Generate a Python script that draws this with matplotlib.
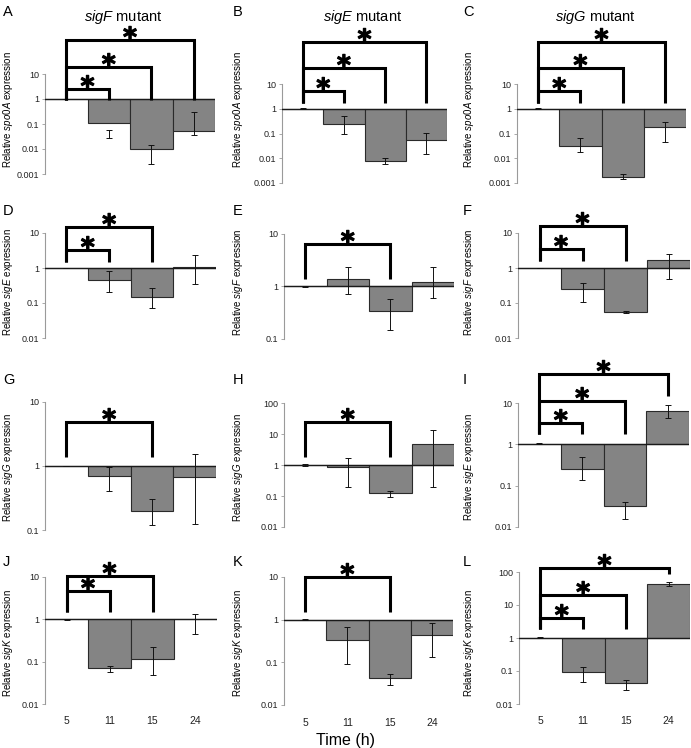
import matplotlib
matplotlib.use("Agg")
import matplotlib.pyplot as plt
import matplotlib.transforms as mtransforms
import matplotlib.patheffects as pe
import numpy as np

plt.rcParams["font.family"] = ["Liberation Sans", "DejaVu Sans"]
plt.rcParams["mathtext.fontset"] = "custom"
plt.rcParams["mathtext.it"] = "Liberation Sans:italic"
plt.rcParams["mathtext.rm"] = "Liberation Sans"

W, H = 691, 748

# ---- data: relative expression vs 5 h ----
times = ["5", "11", "15", "24"]
mutants = ["sigF", "sigE", "sigG"]

val_A = [1, 0.107, 0.010, 0.054]
lo_A = [0.97, 0.027, 0.0025, 0.036]
hi_A = [1.03, 0.058, 0.0145, 0.30]

val_B = [1, 0.25, 0.008, 0.057]
lo_B = [0.97, 0.094, 0.0059, 0.015]
hi_B = [1.03, 0.52, 0.0098, 0.103]

val_C = [1, 0.032, 0.0018, 0.18]
lo_C = [0.97, 0.018, 0.0015, 0.046]
hi_C = [1.03, 0.065, 0.0024, 0.29]

val_D = [1, 0.46, 0.145, 1.1]
lo_D = [0.97, 0.20, 0.074, 0.36]
hi_D = [1.03, 0.80, 0.27, 2.3]

val_E = [1, 1.4, 0.335, 1.23]
lo_E = [0.98, 0.73, 0.146, 0.60]
hi_E = [1.02, 2.4, 0.57, 2.4]

val_F = [1, 0.257, 0.055, 1.66]
lo_F = [0.98, 0.105, 0.053, 0.50]
hi_F = [1.02, 0.38, 0.058, 2.5]

val_G = [1, 0.71, 0.196, 0.67]
lo_G = [0.99, 0.40, 0.12, 0.125]
hi_G = [1.01, 0.98, 0.30, 1.52]

val_H = [1, 0.86, 0.128, 4.8]
lo_H = [0.96, 0.195, 0.093, 0.20]
hi_H = [1.04, 1.64, 0.145, 13.8]

val_I = [1.04, 0.26, 0.032, 6.4]
lo_I = [1.0, 0.137, 0.0156, 4.25]
hi_I = [1.08, 0.50, 0.041, 8.9]

val_J = [1, 0.07, 0.116, 1.0]
lo_J = [0.98, 0.056, 0.049, 0.46]
hi_J = [1.02, 0.078, 0.225, 1.31]

val_K = [1, 0.34, 0.042, 0.44]
lo_K = [0.98, 0.09, 0.030, 0.134]
hi_K = [1.02, 0.67, 0.053, 0.85]

val_L = [1.03, 0.093, 0.042, 44.7]
lo_L = [1.0, 0.045, 0.026, 38]
hi_L = [1.06, 0.135, 0.054, 50]

# gene measured in each panel
genes = ["spo0A", "spo0A", "spo0A", "sigE", "sigF", "sigF",
         "sigG", "sigG", "sigE", "sigK", "sigK", "sigK"]
# axis range per panel
ylims = [(1e-3, 10), (1e-3, 10), (1e-3, 10),
         (1e-2, 10), (0.1, 10), (1e-2, 10),
         (0.1, 10), (1e-2, 100), (1e-2, 10),
         (1e-2, 10), (1e-2, 10), (1e-2, 100)]
# time points significantly different from 5 h
sig = [[1, 2, 3], [1, 2, 3], [1, 2, 3],
       [1, 2], [2], [1, 2],
       [2], [2], [1, 2, 3],
       [1, 2], [2], [1, 2, 3]]

panels = list("ABCDEFGHIJKL")
vals = [val_A, val_B, val_C, val_D, val_E, val_F, val_G, val_H, val_I, val_J, val_K, val_L]
los = [lo_A, lo_B, lo_C, lo_D, lo_E, lo_F, lo_G, lo_H, lo_I, lo_J, lo_K, lo_L]
his = [hi_A, hi_B, hi_C, hi_D, hi_E, hi_F, hi_G, hi_H, hi_I, hi_J, hi_K, hi_L]

# ---- layout (pixels from top-left) ----
boxes = [(45, 215, 74, 174), (282, 447, 84, 183), (517, 686, 84, 183),
         (45, 216, 233, 338), (284, 454, 234, 339), (518, 690, 233, 338),
         (45, 216, 402, 530), (284, 454, 403, 527), (518, 689, 403, 527),
         (45, 217, 577, 704), (284, 453, 577, 705), (519, 690, 572, 704)]
# bracket heights, leg bottom, and right-leg bottom overrides
brk_y = [[89, 67, 40], [91, 68, 42], [91, 68, 42],
         [250, 227], [244], [249, 226],
         [422], [422], [423, 401, 374],
         [591, 576], [577], [618, 595, 568]]
leg_bot = [100, 103, 103, 262, 279, 261, 457, 457, 434, 612, 612, 629]
right_bot = {8: {3: 396}, 11: {3: 574}}
ylab_x = [8, 238, 469]
ylab_y = [110, 282, 467, 643]
letter_x = [3, 233, 463]
letter_y = [12, 211, 380, 562]
title_x = [123, 363, 595]


def fy(px):
    return 1 - px / H


fig = plt.figure(figsize=(W / 100, H / 100), dpi=100)
x = np.arange(4)
star_fx = [pe.withStroke(linewidth=0.9, foreground="k")]

for i, p in enumerate(panels):
    l, r, t, b = boxes[i]
    ax = fig.add_axes([l / W, fy(b), (r - l) / W, (b - t) / H])
    ax.set_yscale("log")
    v = np.array(vals[i], float)
    lo = np.array(los[i], float)
    hi = np.array(his[i], float)
    ax.bar(x, v - 1, bottom=1, width=1.0, color="#848484",
           edgecolor="#2a2a2a", linewidth=0.8, zorder=2)
    ax.axhline(1, color="#1a1a1a", lw=1.0, zorder=3)
    mid = np.sqrt(lo * hi)
    ax.errorbar(x, mid, yerr=[mid - lo, hi - mid], fmt="none", ecolor="#111",
                elinewidth=0.7, capsize=2.2, capthick=0.7, zorder=4)
    ax.set_xlim(-0.5, 3.5)
    ax.set_ylim(*ylims[i])
    lo_e, hi_e = np.log10(ylims[i])
    ticks = 10.0 ** np.arange(round(lo_e), round(hi_e) + 1)
    ax.set_yticks(ticks)
    ax.set_yticklabels([f"{tv:g}" for tv in ticks])
    ax.yaxis.set_minor_locator(matplotlib.ticker.NullLocator())
    for s in ("top", "right", "bottom"):
        ax.spines[s].set_visible(False)
    ax.spines["left"].set_color("#9a9a9a")
    ax.spines["left"].set_linewidth(0.8)
    ax.tick_params(axis="y", length=2.5, width=0.6, color="#9a9a9a",
                   labelsize=6.5, pad=1.5, labelcolor="#222")
    ax.set_xticks(x)
    if i >= 9:
        ax.set_xticklabels(times)
        ax.tick_params(axis="x", length=0, labelsize=7.5, pad=9, labelcolor="#222")
    else:
        ax.set_xticklabels([])
        ax.tick_params(axis="x", length=0)
    ax.patch.set_visible(False)

    # significance brackets
    trans = mtransforms.blended_transform_factory(ax.transData, fig.transFigure)
    for j, yb in zip(sig[i], brk_y[i]):
        rb = right_bot.get(i, {}).get(j, leg_bot[i])
        ax.plot([0, 0, j, j], [fy(leg_bot[i]), fy(yb), fy(yb), fy(rb)],
                transform=trans, clip_on=False, color="k", lw=2.2,
                solid_joinstyle="miter", solid_capstyle="butt", zorder=5)
        ax.text(j / 2, fy(yb + 6), "*", transform=trans, ha="center",
                va="baseline", fontsize=19, fontweight="bold", color="k",
                family="DejaVu Sans", path_effects=star_fx)

    col, row = i % 3, i // 3
    fig.text(ylab_x[col] / W, fy(ylab_y[row]),
             f"Relative $\\it{{{genes[i]}}}$ expression",
             rotation=90, ha="center", va="center", fontsize=7)
    fig.text(letter_x[col] / W, fy(letter_y[row]), p, ha="left",
             va="center", fontsize=10.5)

for c, m in enumerate(mutants):
    fig.text(title_x[c] / W, fy(17), f"$\\it{{{m}}}$ mutant", ha="center",
             va="center", fontsize=10.5)

fig.text(345 / W, fy(741), "Time (h)", ha="center", va="center", fontsize=11.5)

fig.savefig("out.png", dpi=100)
